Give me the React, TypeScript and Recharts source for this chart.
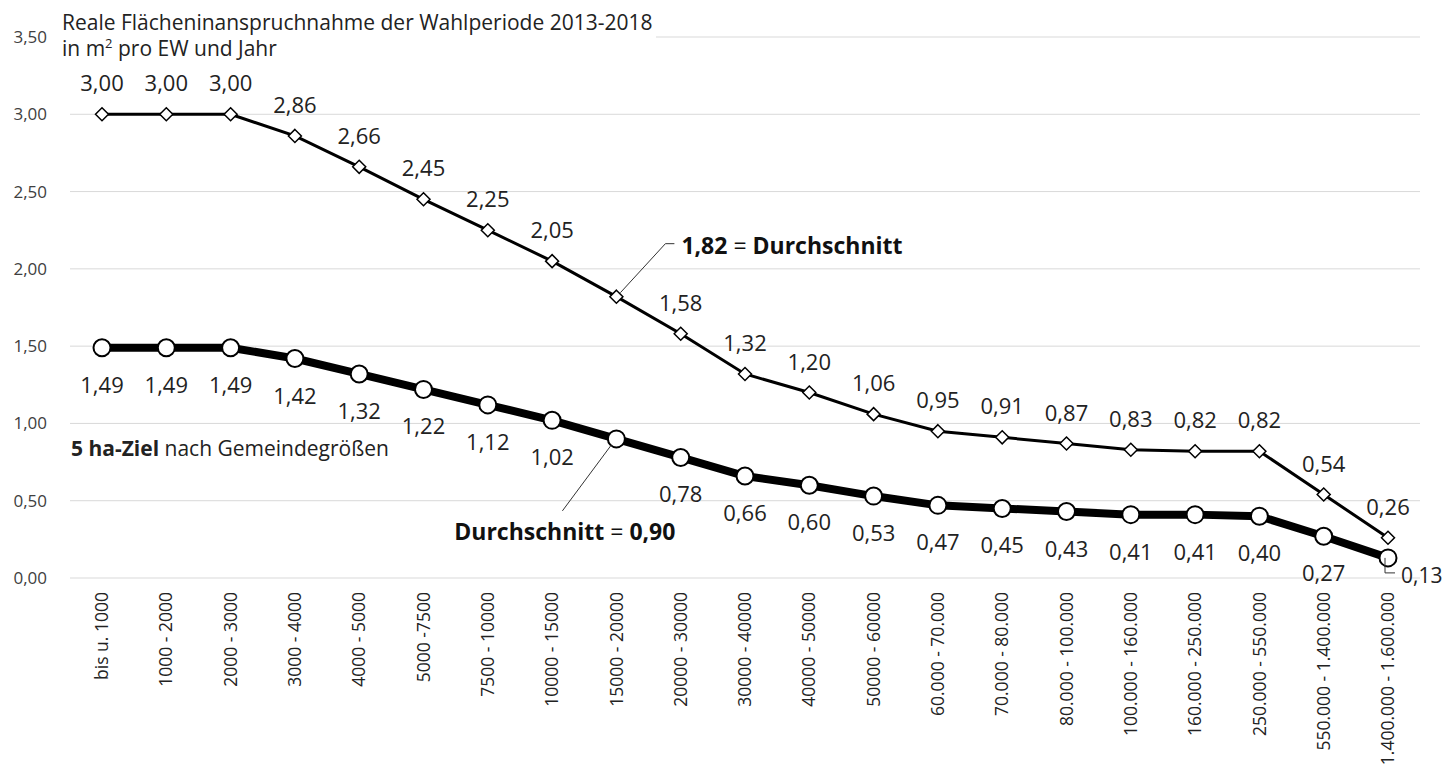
import { CartesianGrid, Line, LineChart, XAxis, YAxis } from 'recharts';

const categories = [
    'bis u. 1000',
    '1000 - 2000',
    '2000 - 3000',
    '3000 - 4000',
    '4000 - 5000',
    '5000 -7500',
    '7500 - 10000',
    '10000 - 15000',
    '15000 - 20000',
    '20000 - 30000',
    '30000 - 40000',
    '40000 - 50000',
    '50000 - 60000',
    '60.000 - 70.000',
    '70.000 - 80.000',
    '80.000 - 100.000',
    '100.000 - 160.000',
    '160.000 - 250.000',
    '250.000 - 550.000',
    '550.000 - 1.400.000',
    '1.400.000 - 1.600.000',
];

const realValues = [3.0, 3.0, 3.0, 2.86, 2.66, 2.45, 2.25, 2.05, 1.82, 1.58, 1.32, 1.2, 1.06, 0.95, 0.91, 0.87, 0.83, 0.82, 0.82, 0.54, 0.26];
const zielValues = [1.49, 1.49, 1.49, 1.42, 1.32, 1.22, 1.12, 1.02, 0.9, 0.78, 0.66, 0.6, 0.53, 0.47, 0.45, 0.43, 0.41, 0.41, 0.4, 0.27, 0.13];
const yTicks = [0, 0.5, 1, 1.5, 2, 2.5, 3, 3.5];

const AVG_INDEX = 8;
const LAST_INDEX = categories.length - 1;

const data = categories.map((name, i) => ({ name, real: realValues[i], ziel: zielValues[i] }));

const FONT = "'Segoe UI', 'Open Sans', 'Noto Sans', sans-serif";
const fmt = (v: number) => v.toFixed(2).replace('.', ',');

function Diamond(props: any) {
    const { cx, cy } = props;
    if (cx == null || cy == null) return null;
    const r = 6.5;
    return (
        <path
            d={`M${cx},${cy - r}L${cx + r},${cy}L${cx},${cy + r}L${cx - r},${cy}Z`}
            fill="#fff"
            stroke="#000"
            strokeWidth={1.5}
        />
    );
}

function Circle(props: any) {
    const { cx, cy } = props;
    if (cx == null || cy == null) return null;
    return <circle cx={cx} cy={cy} r={8.5} fill="#fff" stroke="#000" strokeWidth={2} />;
}

function RealLabel(props: any) {
    const { x, y, value, index } = props;
    if (index === AVG_INDEX) {
        return (
            <g>
                <polyline
                    points={`${x + 4},${y - 4} ${x + 49},${y - 53} ${x + 58},${y - 53}`}
                    fill="none"
                    stroke="#333"
                    strokeWidth={1}
                />
                <text x={x + 65} y={y - 52} dominantBaseline="central" fontFamily={FONT} fontSize={23} fill="#111">
                    <tspan fontWeight={700}>{fmt(value)}</tspan>
                    <tspan> = </tspan>
                    <tspan fontWeight={700}>Durchschnitt</tspan>
                </text>
            </g>
        );
    }
    return (
        <text x={x} y={y - 32} textAnchor="middle" dominantBaseline="central" fontFamily={FONT} fontSize={22} fill="#222">
            {fmt(value)}
        </text>
    );
}

function ZielLabel(props: any) {
    const { x, y, value, index } = props;
    if (index === AVG_INDEX) {
        return (
            <g>
                <line x1={x - 5} y1={y + 6} x2={x - 54} y2={y + 72} stroke="#333" strokeWidth={1} />
                <text x={x + 59} y={y + 92} textAnchor="end" dominantBaseline="central" fontFamily={FONT} fontSize={23} fill="#111">
                    <tspan fontWeight={700}>Durchschnitt</tspan>
                    <tspan> = </tspan>
                    <tspan fontWeight={700}>{fmt(value)}</tspan>
                </text>
            </g>
        );
    }
    if (index === LAST_INDEX) {
        return (
            <g>
                <polyline
                    points={`${x - 3},${y} ${x - 3},${y + 15} ${x + 7},${y + 15}`}
                    fill="none"
                    stroke="#333"
                    strokeWidth={1}
                />
                <text x={x + 13} y={y + 17} dominantBaseline="central" fontFamily={FONT} fontSize={21} fill="#222">
                    {fmt(value)}
                </text>
            </g>
        );
    }
    return (
        <text x={x} y={y + 36} textAnchor="middle" dominantBaseline="central" fontFamily={FONT} fontSize={22} fill="#222">
            {fmt(value)}
        </text>
    );
}

function CategoryTick(props: any) {
    const { x, y, payload } = props;
    return (
        <text
            transform={`translate(${x}, ${y + 14}) rotate(-90)`}
            textAnchor="end"
            dy="0.35em"
            fontFamily={FONT}
            fontSize={17.5}
            fill="#222"
        >
            {payload.value}
        </text>
    );
}

export default function App() {
    return (
        <div style={{ position: 'absolute', left: 0, top: 0, width: 1448, height: 780, background: '#fff', fontFamily: FONT }}>
            <LineChart width={1448} height={780} data={data} margin={{ top: 37, right: 28, left: 0, bottom: 0 }}>
                <CartesianGrid vertical={false} stroke="#d9d9d9" strokeWidth={1} />
                <XAxis
                    dataKey="name"
                    interval={0}
                    height={202}
                    padding={{ left: 32, right: 32 }}
                    axisLine={false}
                    tickLine={false}
                    tickSize={0}
                    tickMargin={0}
                    tick={<CategoryTick />}
                />
                <YAxis
                    domain={[0, 3.5]}
                    ticks={yTicks}
                    width={70}
                    axisLine={false}
                    tickLine={false}
                    tickSize={0}
                    tickMargin={23}
                    tickFormatter={fmt}
                    tick={{ fontFamily: FONT, fontSize: 17, fill: '#404040' }}
                />
                <Line
                    dataKey="ziel"
                    stroke="#000"
                    strokeWidth={8}
                    dot={(p: any) => <Circle key={`c-${p.index}`} {...p} />}
                    activeDot={false}
                    label={(p: any) => <ZielLabel key={`zl-${p.index}`} {...p} />}
                    isAnimationActive={false}
                />
                <Line
                    dataKey="real"
                    stroke="#000"
                    strokeWidth={3}
                    dot={(p: any) => <Diamond key={`d-${p.index}`} {...p} />}
                    activeDot={false}
                    label={(p: any) => <RealLabel key={`rl-${p.index}`} {...p} />}
                    isAnimationActive={false}
                />
            </LineChart>
            <div style={{ position: 'absolute', left: 60, top: 9, background: '#fff', padding: '0 4px 0 2px', fontSize: 21, color: '#222', lineHeight: '26px' }}>
                Reale Flächeninanspruchnahme der Wahlperiode 2013-2018
                <br />
                in m<sup style={{ fontSize: 13, lineHeight: 0 }}>2</sup> pro EW und Jahr
            </div>
            <div style={{ position: 'absolute', left: 71, top: 434, fontSize: 21, color: '#222', lineHeight: '28px' }}>
                <b>5 ha-Ziel</b> nach Gemeindegrößen
            </div>
        </div>
    );
}
